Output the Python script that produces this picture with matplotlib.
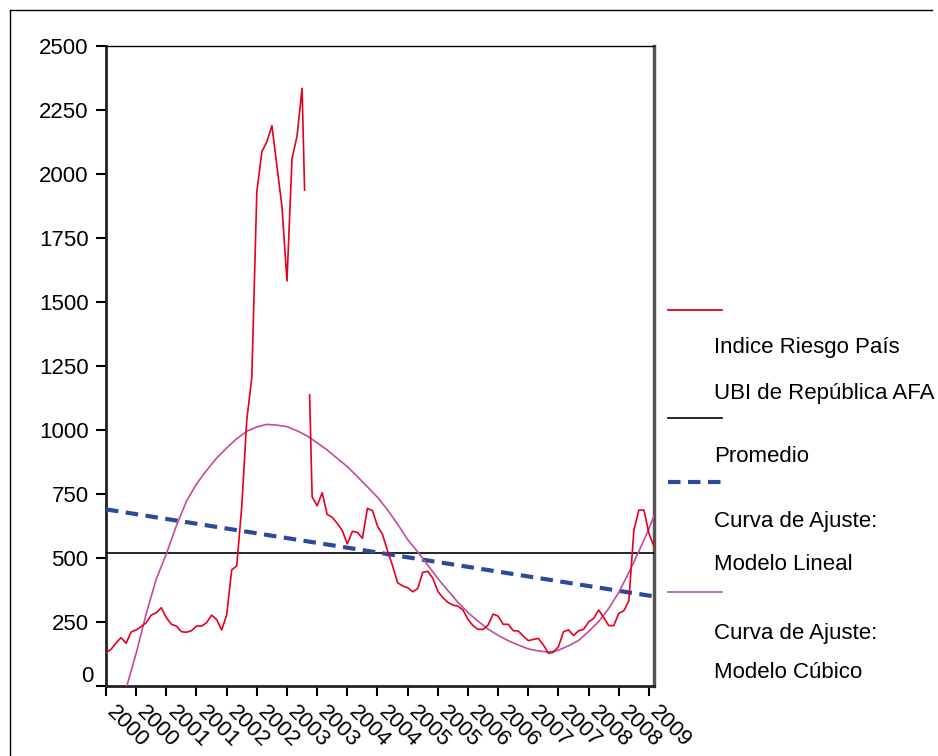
import matplotlib
matplotlib.use('Agg')
import matplotlib.pyplot as plt
import matplotlib.transforms as mtransforms
from matplotlib.lines import Line2D
import numpy as np

plt.rcParams['font.family'] = ['Liberation Sans', 'DejaVu Sans']
plt.rcParams['font.size'] = 16

# Indice riesgo pais (UBI Republica AFA), datos mensuales, mes 0 = ene-2000
riesgo_a = [130, 143, 168, 189, 167, 211, 219, 232, 247, 277,
            286, 306, 267, 241, 234, 212, 210, 216, 234, 234,
            247, 277, 260, 219, 277, 453, 469, 700, 1039, 1205,
            1931, 2087, 2126, 2189, 2031, 1872, 1582, 2061, 2148, 2335,
            1937]
meses_a = list(range(40)) + [39.5]

riesgo_b = [1137, 739, 704, 755, 670, 659, 635, 607, 555, 604,
            600, 577, 694, 685, 625, 592, 528, 470, 403, 391,
            384, 368, 381, 444, 448, 421, 370, 345, 327, 316,
            312, 297, 260, 236, 221, 221, 238, 281, 273, 241,
            241, 216, 215, 195, 177, 182, 186, 160, 128, 132,
            154, 212, 219, 197, 216, 221, 251, 264, 297, 267,
            236, 236, 284, 294, 333, 609, 687, 687, 596, 544]
meses_b = [40.5] + list(range(41, 110))

promedio = 518

# curva de ajuste lineal (extremos)
lineal_x = [0, 109]
lineal_y = [690, 350]

# curva de ajuste cubica
cubico_x = [2, 4, 6, 8, 10, 12, 14, 16, 18, 20, 22, 24, 26, 28, 30, 32, 34,
            36, 38, 40, 42, 44, 46, 48, 50, 52, 54, 56, 58, 60, 62, 64, 66,
            68, 70, 72, 74, 76, 78, 80, 82, 84, 86, 88, 90, 92, 94, 96, 98,
            100, 102, 104, 106, 108, 109]
cubico_y = [-150, -10, 128, 283, 418, 516, 626, 722, 789, 842, 890, 930, 966,
            995, 1012, 1022, 1019, 1013, 997, 977, 950, 922, 889, 857, 818,
            778, 737, 688, 632, 572, 524, 472, 420, 373, 327, 287, 253, 222,
            198, 177, 160, 145, 137, 132, 140, 157, 178, 213, 252, 303, 366,
            443, 526, 615, 665]

ticks_x = list(range(0, 109, 6))
etiquetas_x = ['2000', '2000', '2001', '2001', '2002', '2002', '2003', '2003',
               '2004', '2004', '2005', '2005', '2006', '2006', '2007', '2007',
               '2008', '2008', '2009']

leyenda = ['Indice Riesgo País', 'UBI de República AFA', 'Promedio',
           'Curva de Ajuste:', 'Modelo Lineal', 'Curva de Ajuste:', 'Modelo Cúbico']

ROJO = '#e5001f'
MAGENTA = '#c54a9f'
AZUL = '#2c4a9a'

W, H = 938, 756


def fx(px):
    return px / W


def fy(py):
    return 1 - py / H


def main():
    fig = plt.figure(figsize=(W / 100, H / 100), dpi=100)
    ax = fig.add_axes([fx(106), fy(686), fx(654) - fx(106), fy(46) - fy(686)])

    ax.plot(meses_a, riesgo_a, color=ROJO, lw=1.2, zorder=4)
    ax.plot(meses_b, riesgo_b, color=ROJO, lw=1.2, zorder=4)
    ax.axhline(promedio, color='black', lw=1.2, zorder=3)
    ax.plot(lineal_x, lineal_y, color=AZUL, lw=3.0, dashes=(3.0, 1.8), zorder=3)
    ax.plot(cubico_x, cubico_y, color=MAGENTA, lw=1.2, zorder=3)

    ax.set_xlim(0, 109)
    ax.set_ylim(0, 2500)

    ax.set_yticks(range(0, 2501, 250))
    ax.set_yticklabels([''] + [str(v) for v in range(250, 2501, 250)])
    ax.tick_params(axis='y', direction='out', length=7, width=1.5, pad=5.5)
    # el cero va un poco mas arriba
    ax.annotate('0', xy=(0, 0), xycoords=('axes fraction', 'data'),
                xytext=(-13, 10), textcoords='offset pixels',
                ha='right', va='center')

    ax.set_xticks(ticks_x)
    ax.set_xticklabels(etiquetas_x, rotation=-45, ha='left', va='center',
                       rotation_mode='anchor')
    ax.tick_params(axis='x', direction='out', length=7, width=1.5, pad=9.5)
    desplazar = mtransforms.ScaledTranslation(4 / 100, 0, fig.dpi_scale_trans)
    for lab in ax.get_xticklabels():
        lab.set_transform(lab.get_transform() + desplazar)

    for lado in ['left', 'bottom']:
        ax.spines[lado].set_linewidth(2)
        ax.spines[lado].set_color('#222222')
    ax.spines['right'].set_linewidth(2.5)
    ax.spines['right'].set_color('#555555')
    ax.spines['top'].set_linewidth(1)

    # leyenda a la derecha
    x0, x1, xt = 668, 722, 714
    fig.add_artist(Line2D([fx(x0), fx(x1)], [fy(310), fy(310)], color=ROJO, lw=1.3))
    fig.add_artist(Line2D([fx(x0), fx(x1)], [fy(418), fy(418)], color='black', lw=1.2))
    fig.add_artist(Line2D([fx(x0), fx(x1)], [fy(482), fy(482)], color=AZUL, lw=3.0,
                          dashes=(3.0, 1.8)))
    fig.add_artist(Line2D([fx(x0), fx(x1)], [fy(592), fy(592)], color=MAGENTA, lw=1.2))
    for texto, py in zip(leyenda, [347, 393, 457, 522, 565, 633, 673]):
        fig.text(fx(xt), fy(py), texto, ha='left', va='center')

    # marco exterior
    fig.add_artist(Line2D([fx(10), fx(10)], [fy(10), fy(H + 5)], color='black', lw=1))
    fig.add_artist(Line2D([fx(10), fx(932)], [fy(10), fy(10)], color='black', lw=1))

    fig.savefig('out.png', dpi=100)


if __name__ == '__main__':
    main()
